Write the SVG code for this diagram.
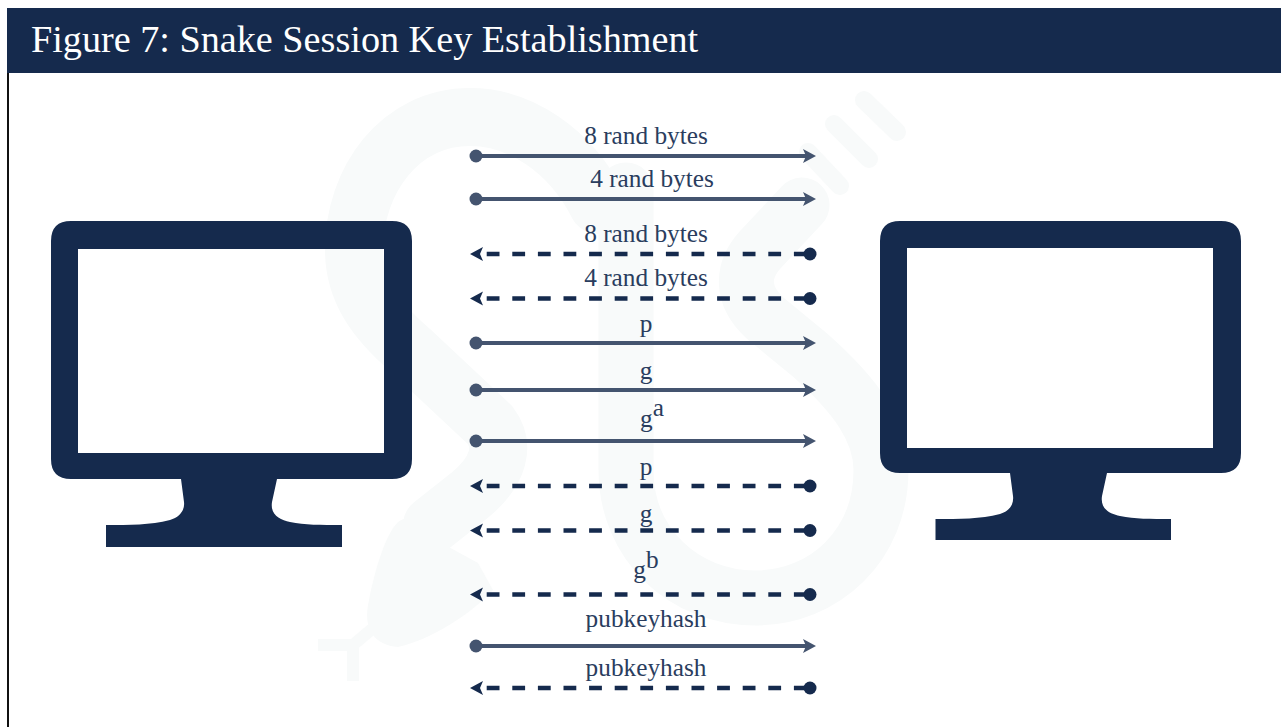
<svg xmlns="http://www.w3.org/2000/svg" width="1281" height="727" viewBox="0 0 1281 727">
<style>
.lbl{font-family:"Liberation Serif","Times New Roman",serif;font-size:25.3px;fill:#2a3d5e;text-anchor:middle}
.sol{stroke:#44546f;stroke-width:3.8;fill:none;marker-start:url(#dotS);marker-end:url(#headS)}
.das{stroke:#152a4d;stroke-width:4.6;fill:none}
.wm{fill:none;stroke:#f8fafa;stroke-linecap:round;stroke-linejoin:round}
.mon{fill:#152a4d}
</style>
<defs>
<marker id="dotS" markerUnits="userSpaceOnUse" markerWidth="14" markerHeight="14" refX="7" refY="7" orient="auto"><circle cx="7" cy="7" r="6.5" fill="#44546f"/></marker>
<marker id="headS" markerUnits="userSpaceOnUse" markerWidth="17" markerHeight="16" refX="8" refY="8" orient="auto"><path d="M3 1L16 8L3 15L6 8Z" fill="#44546f"/></marker>
<path id="headD" d="M470 0L483 -7L480 0L483 7Z" fill="#152a4d"/>
</defs>
<rect width="1281" height="727" fill="#fff"/>
<g id="watermark">
<path class="wm" stroke-width="58" d="M598 205C570 150 520 117 470 117C400 117 354 180 354 250C354 290 375 320 410 350L490 425C505 445 500 470 470 495L432 525"/>
<path d="M398 522C415 510 435 530 445 545L478 563L493 590C470 615 430 640 398 647C375 645 362 630 369 600C375 570 385 535 398 522Z" fill="#f8fafa"/>
<path class="wm" stroke-width="12" style="stroke-linecap:butt" d="M318 645H353L372 629M353 645V681"/>
<path class="wm" stroke-width="55" d="M626 190V470C626 545 685 598 755 598C825 598 881 545 881 470C881 430 855 395 810 355L765 318C740 295 742 270 760 250L802 205"/>
<path class="wm" stroke-width="18" d="M808 152L840 186M834 124L869 159M864 100L897 132"/>
</g>
<g id="header">
<rect x="7" y="8" width="1274" height="65" fill="#152a4d"/>
<rect x="7" y="73" width="2" height="654" fill="#111"/>
<text x="31" y="52" font-family="'Liberation Serif','Times New Roman',serif" font-size="38.200" fill="#fff">Figure 7: Snake Session Key Establishment</text>
</g>
<g id="computer-left">
<path class="mon" fill-rule="evenodd" d="M71 221H392Q412 221 412 241V459Q412 479 392 479H277L272 502C270 515 280 520 290 522C305 525 320 525 342 525V547H106V525C130 525 150 525 170 520C180 517 185 510 184 502L181 479H71Q51 479 51 459V241Q51 221 71 221ZM78 249V453H384V249Z"/>
</g>
<g id="computer-right">
<path class="mon" fill-rule="evenodd" d="M900 221H1221Q1241 221 1241 241V453Q1241 473 1221 473H1107L1102 496C1100 509 1110 514 1120 516C1135 519 1150 519 1171 519V540H935.500V519C960 519 980 519 1000 514C1010 511 1014 504 1013 496L1010 473H900Q880 473 880 453V241Q880 221 900 221ZM907 248V448H1213V248Z"/>
</g>
<g id="connectors">
<path class="sol" d="M476 156H808"/>
<path class="sol" d="M476 199H808"/>
<path class="sol" d="M476 343H808"/>
<path class="sol" d="M476 390H808"/>
<path class="sol" d="M476 441H808"/>
<path class="sol" d="M476 646H808"/>
<g id="dashed">
<g transform="translate(0 254)"><use href="#headD"/><path class="das" d="M486.700 0H810" stroke-dasharray="12.800 12.800"/><circle cx="810" cy="0" r="6.500" fill="#152a4d"/></g>
<g transform="translate(0 298.500)"><use href="#headD"/><path class="das" d="M486.700 0H810" stroke-dasharray="12.800 12.800"/><circle cx="810" cy="0" r="6.500" fill="#152a4d"/></g>
<g transform="translate(0 486)"><use href="#headD"/><path class="das" d="M486.700 0H810" stroke-dasharray="12.800 12.800"/><circle cx="810" cy="0" r="6.500" fill="#152a4d"/></g>
<g transform="translate(0 530.500)"><use href="#headD"/><path class="das" d="M486.700 0H810" stroke-dasharray="12.800 12.800"/><circle cx="810" cy="0" r="6.500" fill="#152a4d"/></g>
<g transform="translate(0 594.500)"><use href="#headD"/><path class="das" d="M486.700 0H810" stroke-dasharray="12.800 12.800"/><circle cx="810" cy="0" r="6.500" fill="#152a4d"/></g>
<g transform="translate(0 688)"><use href="#headD"/><path class="das" d="M486.700 0H810" stroke-dasharray="12.800 12.800"/><circle cx="810" cy="0" r="6.500" fill="#152a4d"/></g>
</g>
</g>
<g id="labels">
<text class="lbl" x="646" y="143.500">8 rand bytes</text>
<text class="lbl" x="652" y="186.500">4 rand bytes</text>
<text class="lbl" x="646" y="241.500">8 rand bytes</text>
<text class="lbl" x="646" y="285.500">4 rand bytes</text>
<text class="lbl" x="646" y="332">p</text>
<text class="lbl" x="646" y="379">g</text>
<text class="lbl" x="652" y="427">g<tspan dy="-11">a</tspan></text>
<text class="lbl" x="646" y="475">p</text>
<text class="lbl" x="646" y="522">g</text>
<text class="lbl" x="646" y="578">g<tspan dy="-10">b</tspan></text>
<text class="lbl" x="646" y="627">pubkeyhash</text>
<text class="lbl" x="646" y="675.500">pubkeyhash</text>
</g>
</svg>
